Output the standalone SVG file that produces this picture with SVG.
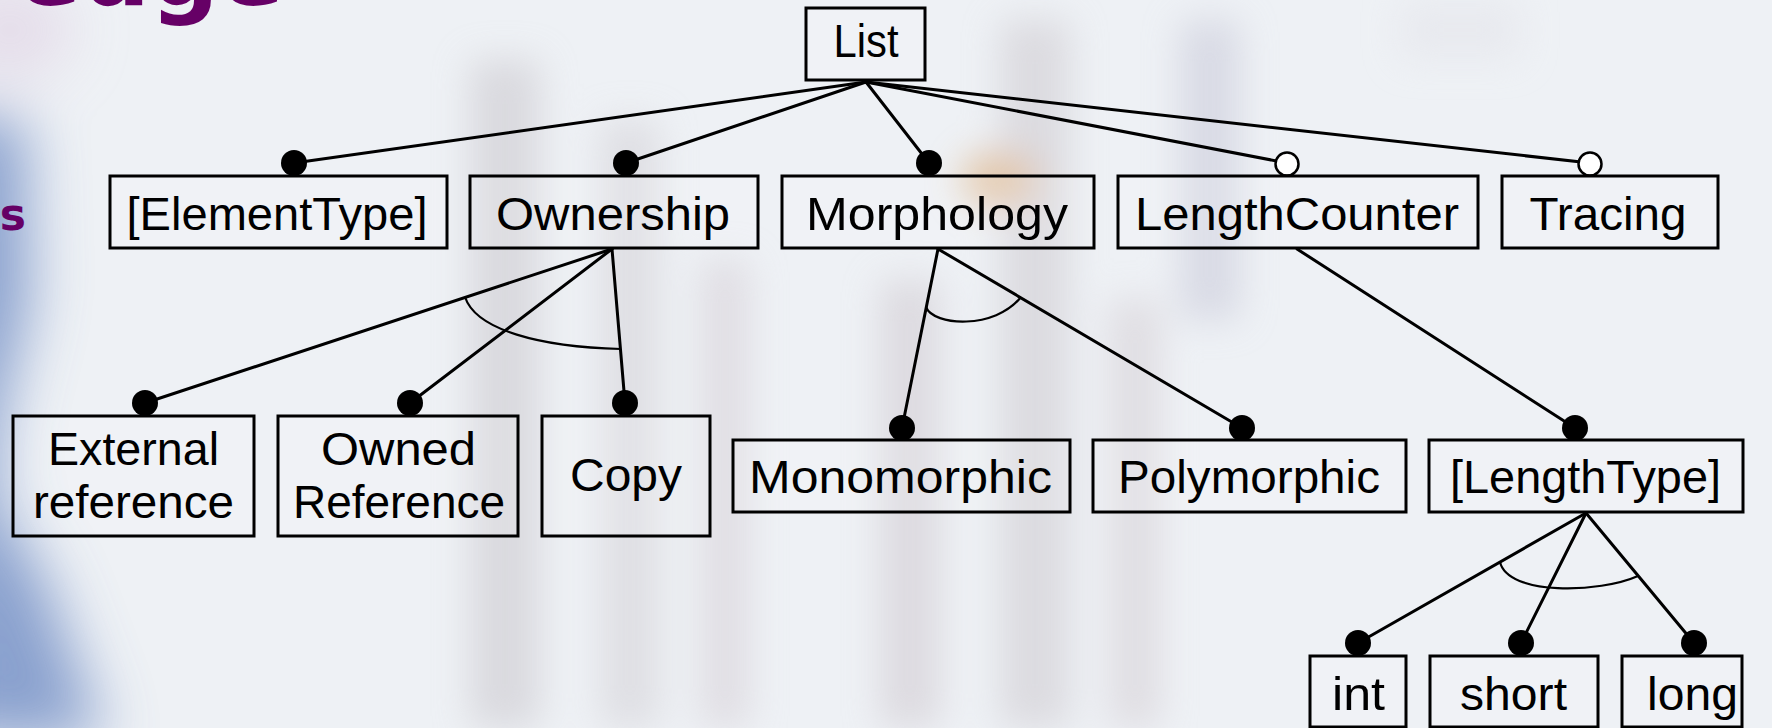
<svg xmlns="http://www.w3.org/2000/svg" width="1772" height="728" viewBox="0 0 1772 728">
  <defs>
    <filter id="blur" x="-50%" y="-50%" width="200%" height="200%">
      <feGaussianBlur stdDeviation="18"/>
    </filter>
    <filter id="blurL" x="-100%" y="-50%" width="300%" height="200%">
      <feGaussianBlur stdDeviation="30"/>
    </filter>
    <style>
      .box { fill: #ffffff; fill-opacity: 0.12; stroke: #000; stroke-width: 3; }
      .lbl { font-family: "Liberation Sans", Arial, sans-serif; font-size: 46px; fill: #000; text-anchor: middle; }
      .edge { stroke: #000; stroke-width: 3; fill: none; stroke-linecap: round; }
      .arc { stroke: #000; stroke-width: 2.2; fill: none; }
      .dot { fill: #000; }
      .odot { fill: #fff; stroke: #000; stroke-width: 2.5; }
      .title { font-family: "DejaVu Sans", Verdana, sans-serif; font-weight: bold; fill: #660066; }
    </style>
  </defs>

  <!-- background -->
  <g id="background">
    <rect x="0" y="0" width="1772" height="728" fill="#eef1f5"/>
    <g filter="url(#blur)" opacity="0.55">
      <rect x="470" y="60" width="70" height="668" fill="#c9c6cc"/>
      <rect x="600" y="120" width="60" height="608" fill="#d3d0d6"/>
      <rect x="700" y="260" width="50" height="468" fill="#d6cfd6"/>
      <rect x="880" y="280" width="60" height="448" fill="#cfc8cf"/>
      <rect x="1000" y="20" width="70" height="708" fill="#cdc9cf"/>
      <rect x="1110" y="300" width="50" height="428" fill="#d4cdd3"/>
      <rect x="1180" y="20" width="60" height="300" fill="#c7c8d8"/>
      <ellipse cx="1000" cy="180" rx="40" ry="30" fill="#d9a66e"/>
      <rect x="1400" y="0" width="120" height="60" fill="#e4e4ea"/>
    </g>
    <g filter="url(#blurL)" opacity="0.8">
      <ellipse cx="10" cy="30" rx="60" ry="45" fill="#e2d6e6"/>
      <path d="M-60,110 L25,120 L30,300 L0,420 L-5,500 L45,580 L105,740 L-60,740 Z" fill="#6f8cc4"/>
    </g>
    <text class="title" x="284" y="5" font-size="96" text-anchor="end">edge</text>
    <text class="title" x="26" y="230" font-size="44" text-anchor="end">s</text>
  </g>

  <!-- connectors -->
  <g id="connectors">
    <line class="edge" x1="866" y1="82" x2="294" y2="163"/>
    <line class="edge" x1="866" y1="82" x2="626" y2="163"/>
    <line class="edge" x1="866" y1="82" x2="929" y2="163"/>
    <line class="edge" x1="866" y1="82" x2="1287" y2="163"/>
    <line class="edge" x1="866" y1="82" x2="1590" y2="163"/>

    <line class="edge" x1="612" y1="249" x2="145" y2="403"/>
    <line class="edge" x1="612" y1="249" x2="410" y2="403"/>
    <line class="edge" x1="612" y1="249" x2="625" y2="403"/>
    <path class="arc" d="M465,297 C476,330 540,347 621,349"/>

    <line class="edge" x1="938" y1="249" x2="902" y2="428"/>
    <line class="edge" x1="938" y1="249" x2="1242" y2="428"/>
    <path class="arc" d="M926,307 C933,326 995,330 1021,297"/>

    <line class="edge" x1="1297" y1="249" x2="1575" y2="428"/>

    <line class="edge" x1="1586" y1="513" x2="1358" y2="643"/>
    <line class="edge" x1="1586" y1="513" x2="1521" y2="643"/>
    <line class="edge" x1="1586" y1="513" x2="1694" y2="643"/>
    <path class="arc" d="M1500,562 C1508,596 1600,593 1638,576"/>

    <circle class="dot" cx="294" cy="163" r="13"/>
    <circle class="dot" cx="626" cy="163" r="13"/>
    <circle class="dot" cx="929" cy="163" r="13"/>
    <circle class="odot" cx="1287" cy="164" r="11.5"/>
    <circle class="odot" cx="1590" cy="164" r="11.5"/>
    <circle class="dot" cx="145" cy="403" r="13"/>
    <circle class="dot" cx="410" cy="403" r="13"/>
    <circle class="dot" cx="625" cy="403" r="13"/>
    <circle class="dot" cx="902" cy="428" r="13"/>
    <circle class="dot" cx="1242" cy="428" r="13"/>
    <circle class="dot" cx="1575" cy="428" r="13"/>
    <circle class="dot" cx="1358" cy="643" r="13"/>
    <circle class="dot" cx="1521" cy="643" r="13"/>
    <circle class="dot" cx="1694" cy="643" r="13"/>
  </g>

  <!-- nodes -->
  <g id="node-list">
    <rect class="box" x="806" y="8" width="119" height="72"/>
    <text class="lbl" x="866" y="57" textLength="65" lengthAdjust="spacingAndGlyphs">List</text>
  </g>
  <g id="node-elementtype">
    <rect class="box" x="110" y="176" width="337" height="72"/>
    <text class="lbl" x="277" y="230" textLength="301" lengthAdjust="spacingAndGlyphs">[ElementType]</text>
  </g>
  <g id="node-ownership">
    <rect class="box" x="470" y="176" width="288" height="72"/>
    <text class="lbl" x="613" y="230" textLength="234" lengthAdjust="spacingAndGlyphs">Ownership</text>
  </g>
  <g id="node-morphology">
    <rect class="box" x="782" y="176" width="312" height="72"/>
    <text class="lbl" x="937" y="230" textLength="262" lengthAdjust="spacingAndGlyphs">Morphology</text>
  </g>
  <g id="node-lengthcounter">
    <rect class="box" x="1118" y="176" width="360" height="72"/>
    <text class="lbl" x="1297" y="230" textLength="324" lengthAdjust="spacingAndGlyphs">LengthCounter</text>
  </g>
  <g id="node-tracing">
    <rect class="box" x="1502" y="176" width="216" height="72"/>
    <text class="lbl" x="1608" y="230" textLength="157" lengthAdjust="spacingAndGlyphs">Tracing</text>
  </g>
  <g id="node-external">
    <rect class="box" x="13" y="416" width="241" height="120"/>
    <text class="lbl" x="133.5" y="465" textLength="171" lengthAdjust="spacingAndGlyphs">External</text>
    <text class="lbl" x="133.5" y="518" textLength="201" lengthAdjust="spacingAndGlyphs">reference</text>
  </g>
  <g id="node-owned">
    <rect class="box" x="278" y="416" width="240" height="120"/>
    <text class="lbl" x="398.5" y="465" textLength="155" lengthAdjust="spacingAndGlyphs">Owned</text>
    <text class="lbl" x="399" y="518" textLength="212" lengthAdjust="spacingAndGlyphs">Reference</text>
  </g>
  <g id="node-copy">
    <rect class="box" x="542" y="416" width="168" height="120"/>
    <text class="lbl" x="626" y="491" textLength="112" lengthAdjust="spacingAndGlyphs">Copy</text>
  </g>
  <g id="node-monomorphic">
    <rect class="box" x="733" y="440" width="337" height="72"/>
    <text class="lbl" x="900.5" y="493" textLength="303" lengthAdjust="spacingAndGlyphs">Monomorphic</text>
  </g>
  <g id="node-polymorphic">
    <rect class="box" x="1093" y="440" width="313" height="72"/>
    <text class="lbl" x="1249" y="493" textLength="262" lengthAdjust="spacingAndGlyphs">Polymorphic</text>
  </g>
  <g id="node-lengthtype">
    <rect class="box" x="1429" y="440" width="314" height="72"/>
    <text class="lbl" x="1585.5" y="493" textLength="271" lengthAdjust="spacingAndGlyphs">[LengthType]</text>
  </g>
  <g id="node-int">
    <rect class="box" x="1310" y="656" width="96" height="71"/>
    <text class="lbl" x="1358.5" y="710" textLength="53" lengthAdjust="spacingAndGlyphs">int</text>
  </g>
  <g id="node-short">
    <rect class="box" x="1430" y="656" width="168" height="71"/>
    <text class="lbl" x="1513.5" y="710" textLength="107" lengthAdjust="spacingAndGlyphs">short</text>
  </g>
  <g id="node-long">
    <rect class="box" x="1622" y="656" width="120" height="71"/>
    <text class="lbl" x="1692.5" y="710" textLength="91" lengthAdjust="spacingAndGlyphs">long</text>
  </g>
</svg>
